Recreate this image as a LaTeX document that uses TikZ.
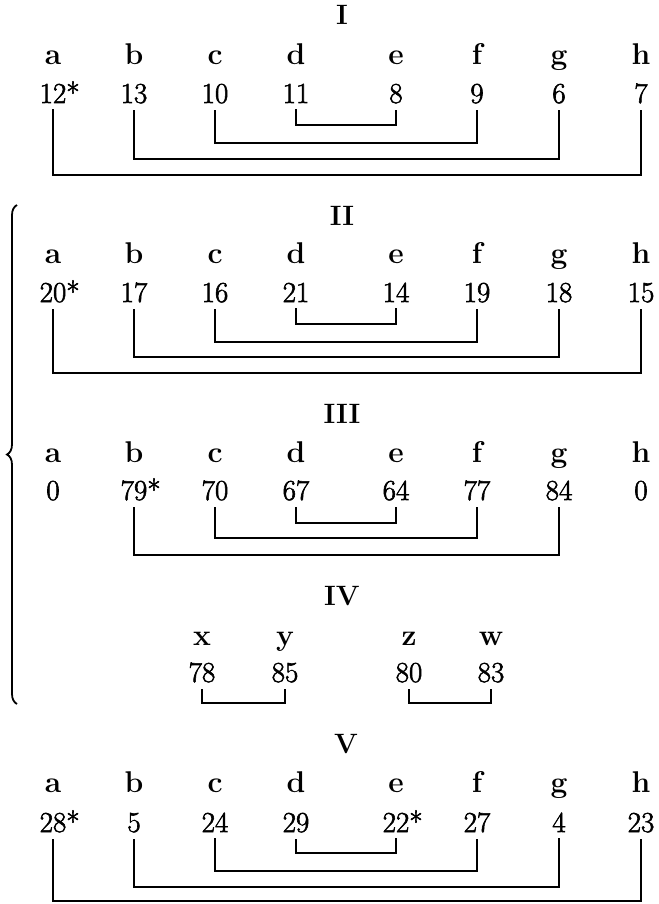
\documentclass[tikz,border=0pt]{standalone}
\usepackage{fontspec}
\newfontfamily\numfont[FakeBold=2]{Latin Modern Roman}
\usetikzlibrary{decorations.pathreplacing}
\tikzset{
  lbl/.style={anchor=base, inner sep=0pt, font=\fontsize{15}{17}\selectfont\bfseries},
  num/.style={anchor=base, inner sep=0pt, font=\numfont\fontsize{14.5}{16}\selectfont},
  ttl/.style={anchor=base, inner sep=0pt, font=\fontsize{14}{16}\selectfont\bfseries},
  conn/.style={line width=1.15pt, line join=miter, line cap=rect},
  bracestyle/.style={decorate, decoration={brace, amplitude=5pt}, line width=0.9pt}
}
\newcommand\pairlink[3]{\draw[conn] ([yshift=-3.5pt]#1.south) -- (#1.south |- 0,#3) -- (#2.south |- 0,#3) -- ([yshift=-3.5pt]#2.south);}
\begin{document}
\begin{tikzpicture}[x=0.5pt,y=-0.5pt]
\useasboundingbox (0,0) rectangle (658,904);
% ---------- I ----------
\node[ttl] (tI) at (342,25) {I};
\foreach \c/\x in {a/53,b/134,c/215,d/296,e/396,f/477,g/559,h/641}
  \node[lbl] (I\c L) at (\x,65) {\c};
\foreach \c/\x/\v in {a/53/{12\rlap{*}},b/134/13,c/215/10,d/296/11,e/396/8,f/477/9,g/559/6,h/641/7}
  \node[num] (I\c) at (\x,103) {\v};
\pairlink{Id}{Ie}{125}
\pairlink{Ic}{If}{143}
\pairlink{Ib}{Ig}{159}
\pairlink{Ia}{Ih}{175}
% ---------- II ----------
\node[ttl] (tII) at (342,225) {II};
\foreach \c/\x in {a/53,b/134,c/215,d/296,e/396,f/477,g/559,h/641}
  \node[lbl] (II\c L) at (\x,263) {\c};
\foreach \c/\x/\v in {a/53/{20\rlap{*}},b/134/17,c/215/16,d/296/21,e/396/14,f/477/19,g/559/18,h/641/15}
  \node[num] (II\c) at (\x,302) {\v};
\pairlink{IId}{IIe}{324}
\pairlink{IIc}{IIf}{342}
\pairlink{IIb}{IIg}{357}
\pairlink{IIa}{IIh}{373}
% ---------- III ----------
\node[ttl] (tIII) at (342,423) {III};
\foreach \c/\x in {a/53,b/134,c/215,d/296,e/396,f/477,g/559,h/641}
  \node[lbl] (III\c L) at (\x,462) {\c};
\foreach \c/\x/\v in {a/53/0,b/134/{79\rlap{*}},c/215/70,d/296/67,e/396/64,f/477/77,g/559/84,h/641/0}
  \node[num] (III\c) at (\x,500) {\v};
\pairlink{IIId}{IIIe}{523}
\pairlink{IIIc}{IIIf}{538}
\pairlink{IIIb}{IIIg}{555}
% ---------- IV ----------
\node[ttl] (tIV) at (342,605) {IV};
\foreach \c/\x in {x/202,y/285,z/409,w/491}
  \node[lbl] (IV\c L) at (\x,645) {\c};
\foreach \c/\x/\v in {x/202/78,y/285/85,z/409/80,w/491/83}
  \node[num] (IV\c) at (\x,682) {\v};
\pairlink{IVx}{IVy}{703}
\pairlink{IVz}{IVw}{703}
% ---------- V ----------
\node[ttl] (tV) at (346,753) {V};
\foreach \c/\x in {a/53,b/134,c/215,d/296,e/396,f/477,g/559,h/641}
  \node[lbl] (V\c L) at (\x,792) {\c};
\foreach \c/\x/\v in {a/53/{28\rlap{*}},b/134/5,c/215/24,d/296/29,e/396/{22\rlap{*}},f/477/27,g/559/4,h/641/23}
  \node[num] (V\c) at (\x,832) {\v};
\pairlink{Vd}{Ve}{853}
\pairlink{Vc}{Vf}{871}
\pairlink{Vb}{Vg}{887}
\pairlink{Va}{Vh}{901}
% ---------- brace ----------
\coordinate (bb) at (17,704);
\coordinate (bt) at (17,205);
\draw[bracestyle] (bb) -- (bt);
\end{tikzpicture}
\end{document}
